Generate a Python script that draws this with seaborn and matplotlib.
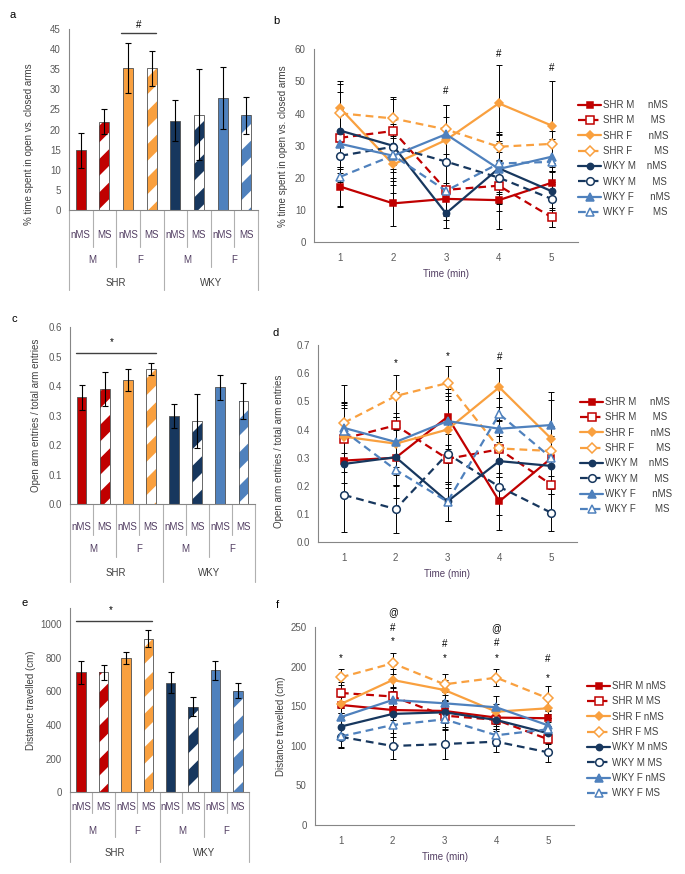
import numpy as np
import pandas as pd
import matplotlib
matplotlib.use("Agg")
import matplotlib.pyplot as plt
from matplotlib.lines import Line2D
from matplotlib.patches import Rectangle
import seaborn as sns

# ---- groups and styles ----
bar_groups = ['SHR M nMS', 'SHR M MS', 'SHR F nMS', 'SHR F MS',
              'WKY M nMS', 'WKY M MS', 'WKY F nMS', 'WKY F MS']
group_colors = ['#C00000', '#C00000', '#F9A03F', '#F9A03F',
                '#17375E', '#17375E', '#4F81BD', '#4F81BD']
is_ms = [False, True, False, True, False, True, False, True]
treat_labels = ['nMS', 'MS', 'nMS', 'MS', 'nMS', 'MS', 'nMS', 'MS']
sex_labels = ['M', 'F', 'M', 'F']
strain_labels = ['SHR', 'WKY']

markers = ['s', 's', 'D', 'D', 'o', 'o', '^', '^']
marker_sizes = [5, 5.5, 4, 5, 4.5, 5.5, 5.5, 5.5]
legend_labels_bd = ['SHR M     nMS', 'SHR M      MS', 'SHR F      nMS', 'SHR F        MS',
                    'WKY M    nMS', 'WKY M      MS', 'WKY F      nMS', 'WKY F       MS']

time_min = [1, 2, 3, 4, 5]

# ---- panel a: % time in open arms (bars) ----
a_mean = [14.8, 21.9, 35.2, 35.2, 22.2, 23.7, 27.8, 23.5]
a_err = [4.4, 3.1, 6.2, 4.3, 5.1, 11.3, 7.7, 4.6]

# ---- panel c: open arm entries ratio (bars) ----
c_mean = [0.363, 0.390, 0.420, 0.460, 0.300, 0.282, 0.396, 0.350]
c_err = [0.043, 0.057, 0.037, 0.020, 0.040, 0.091, 0.044, 0.060]

# ---- panel e: distance travelled (bars) ----
e_mean = [712, 712, 798, 912, 652, 509, 724, 604]
e_err = [68, 45, 37, 50, 62, 55, 54, 45]

# ---- panel b: % time per minute ----
b_shr_m_nms = [17.3, 12.1, 13.5, 13.1, 18.5]
b_shr_m_ms = [32.5, 34.6, 16.3, 17.6, 7.8]
b_shr_f_nms = [41.6, 24.2, 31.8, 43.2, 36.3]
b_shr_f_ms = [40.1, 38.5, 35.1, 29.7, 30.6]
b_wky_m_nms = [34.7, 30.0, 9.0, 23.0, 15.9]
b_wky_m_ms = [26.9, 29.7, 25.1, 20.1, 13.5]
b_wky_f_nms = [30.6, 26.9, 33.6, 22.8, 26.6]
b_wky_f_ms = [20.4, 27.0, 16.0, 24.5, 25.0]
b_err = [[6.0, 7.0, 5.0, 9.0, 5.0], [9.0, 10.7, 8.0, 8.0, 3.0],
         [8.7, 9.0, 7.0, 11.8, 14.0], [9.0, 6.0, 7.7, 4.5, 6.0],
         [12.0, 8.0, 4.5, 8.0, 6.0], [8.0, 7.0, 8.0, 8.0, 8.7],
         [9.0, 9.0, 9.0, 11.0, 8.0], [9.5, 7.0, 9.0, 9.0, 7.0]]
b_sig_x = [3, 4, 5]
b_sig_y = [47.0, 58.4, 54.2]
b_sig_t = ['#', '#', '#']

# ---- panel d: entries ratio per minute ----
d_shr_m_nms = [0.290, 0.300, 0.445, 0.145, 0.298]
d_shr_m_ms = [0.368, 0.415, 0.296, 0.330, 0.205]
d_shr_f_nms = [0.375, 0.350, 0.400, 0.550, 0.368]
d_shr_f_ms = [0.424, 0.519, 0.565, 0.333, 0.324]
d_wky_m_nms = [0.278, 0.302, 0.145, 0.288, 0.271]
d_wky_m_ms = [0.168, 0.118, 0.314, 0.197, 0.105]
d_wky_f_nms = [0.406, 0.356, 0.430, 0.403, 0.416]
d_wky_f_ms = [0.395, 0.257, 0.144, 0.455, 0.300]
d_err = [[0.08, 0.10, 0.10, 0.10, 0.08], [0.12, 0.12, 0.09, 0.10, 0.09],
         [0.10, 0.11, 0.12, 0.07, 0.165], [0.135, 0.073, 0.06, 0.10, 0.09],
         [0.10, 0.10, 0.07, 0.09, 0.10], [0.13, 0.085, 0.12, 0.10, 0.065],
         [0.09, 0.09, 0.10, 0.11, 0.09], [0.10, 0.10, 0.07, 0.10, 0.11]]
d_sig_x = [2, 3, 4]
d_sig_y = [0.636, 0.661, 0.658]
d_sig_t = ['*', '*', '#']

# ---- panel f: distance per minute ----
f_shr_m_nms = [151.8, 145.4, 144.2, 135.8, 135.0]
f_shr_m_ms = [167.0, 162.5, 138.3, 133.0, 108.4]
f_shr_f_nms = [153.0, 183.4, 170.7, 143.3, 147.6]
f_shr_f_ms = [186.8, 204.5, 177.9, 186.3, 160.2]
f_wky_m_nms = [124.5, 140.5, 142.5, 132.8, 116.0]
f_wky_m_ms = [111.5, 99.9, 102.4, 105.4, 91.9]
f_wky_f_nms = [136.5, 158.1, 153.9, 148.8, 126.0]
f_wky_f_ms = [112.0, 126.5, 133.6, 113.5, 121.0]
f_err = [[10, 12, 12, 10, 10], [14, 12, 14, 12, 12],
         [12, 14, 13, 10, 12], [10, 13.5, 13, 11, 15.6],
         [12, 14, 14, 12, 14], [13.5, 17, 19.4, 13.4, 11.9],
         [12, 15, 14, 14, 14], [13, 15, 14, 14, 14]]
f_sig_x = [1, 2, 2, 2, 3, 3, 4, 4, 4, 5, 5]
f_sig_y = [211, 232, 249, 269, 211, 229, 211, 230, 249, 186, 209.5]
f_sig_t = ['*', '*', '#', '@', '*', '#', '*', '#', '@', '*', '#']

sns.set_style("white")
plt.rcParams['font.family'] = ['Liberation Sans', 'DejaVu Sans']
HATCH_LW = 8.5
plt.rcParams['hatch.linewidth'] = HATCH_LW

FIG_W, FIG_H = 685, 874
AX_GREY = '#868686'
TICK_COL = '#595959'
TXT_COL = '#404040'
CAT_COL = '#533F63'
FS = 7

fig = plt.figure(figsize=(FIG_W / 100, FIG_H / 100), dpi=100)


def add_ax(left, top, right, bottom):
    return fig.add_axes([left / FIG_W, 1 - bottom / FIG_H,
                         (right - left) / FIG_W, (bottom - top) / FIG_H])


def style_axes(ax, ylim, yticks, fmt, ylabel, label_x_px, label_y_frac):
    ax.set_ylim(*ylim)
    ax.set_yticks(yticks)
    ax.set_yticklabels([fmt.format(v) for v in yticks])
    for s in ['top', 'right']:
        ax.spines[s].set_visible(False)
    for s in ['left', 'bottom']:
        ax.spines[s].set_color(AX_GREY)
        ax.spines[s].set_linewidth(0.8)
    ax.tick_params(axis='y', length=3, width=0.7, color=AX_GREY, labelsize=FS,
                   labelcolor=TICK_COL, pad=3)
    ax.set_ylabel(ylabel, fontsize=FS, color=TXT_COL)
    pos = ax.get_position()
    left_px = pos.x0 * FIG_W
    w_px = pos.width * FIG_W
    ax.yaxis.set_label_coords((label_x_px + 4.5 - left_px) / w_px, label_y_frac)


def category_table(ax, y1, y2, y3, d_pair, d_sex, d_strain):
    h_px = ax.get_position().height * FIG_H
    tr = ax.get_xaxis_transform()

    def fy(px):
        return -px / h_px

    for i, t in enumerate(treat_labels):
        ax.text(i, fy(y1), t, transform=tr, ha='center', va='center',
                fontsize=FS, color=CAT_COL)
    for j, s in enumerate(sex_labels):
        ax.text(2 * j + 0.5, fy(y2), s, transform=tr, ha='center', va='center',
                fontsize=FS, color=CAT_COL)
    for k, s in enumerate(strain_labels):
        ax.text(4 * k + 1.5, fy(y3), s, transform=tr, ha='center', va='center',
                fontsize=FS, color=TXT_COL)
    for b in np.arange(-0.5, 8, 1):
        if b in (-0.5, 3.5, 7.5):
            d = d_strain
        elif b in (1.5, 5.5):
            d = d_sex
        else:
            d = d_pair
        ax.plot([b, b], [0, fy(d)], transform=tr, color='#B0B0B0', lw=0.8,
                clip_on=False)


def bar_panel(ax, means, errs):
    df = pd.DataFrame({'group': bar_groups, 'value': means})
    sns.barplot(data=df, x='group', y='value', hue='group', order=bar_groups,
                palette=dict(zip(bar_groups, group_colors)), width=0.42,
                saturation=1, legend=False, errorbar=None, ax=ax,
                edgecolor='#505050', linewidth=0.6)
    bars = sorted(ax.patches, key=lambda p: p.get_x())
    for p, col, ms in zip(bars, group_colors, is_ms):
        if ms:
            p.set_facecolor('white')
            p.set_edgecolor(col)
            p.set_hatch('/')
            if hasattr(p, 'set_hatch_linewidth'):
                p.set_hatch_linewidth(HATCH_LW)
            p.set_linewidth(0)
            ax.add_patch(Rectangle(p.get_xy(), p.get_width(), p.get_height(),
                                   fill=False, edgecolor='#505050', lw=0.6,
                                   zorder=p.get_zorder() + 0.1))
    ax.errorbar(np.arange(len(means)), means, yerr=errs, fmt='none',
                ecolor='black', elinewidth=0.8, capsize=2.5, capthick=0.8,
                zorder=5)
    ax.set_xlim(-0.5, 7.5)
    ax.set_xticks([])
    ax.set_xlabel('')


def line_panel(ax, series, errs, sig_x, sig_y, sig_t, ylim):
    for vals, err in zip(series, errs):
        ax.errorbar(time_min, vals, yerr=err, fmt='none', ecolor='black',
                    elinewidth=0.7, capsize=2, capthick=0.7, zorder=2)
    for i, vals in enumerate(series):
        col = group_colors[i]
        sns.lineplot(x=time_min, y=vals, ax=ax, color=col, errorbar=None,
                     linestyle='--' if is_ms[i] else '-', dashes=False,
                     marker=markers[i], markersize=marker_sizes[i],
                     markerfacecolor='white' if is_ms[i] else col,
                     markeredgecolor=col, markeredgewidth=1.1, linewidth=1.6,
                     zorder=3)
    for line in ax.get_lines():
        if line.get_linestyle() == '--':
            line.set_dashes((3.5, 2.2))
    for x, y, t in zip(sig_x, sig_y, sig_t):
        ax.text(x, y, t, ha='center', va='center', fontsize=FS, color='black',
                clip_on=False)
    ax.set_xlim(0.5, 5.5)
    ax.set_xticks(time_min)
    ax.set_xticks(np.arange(0.5, 6, 1), minor=True)
    ax.tick_params(axis='x', which='major', length=0, labelsize=FS,
                   labelcolor=TICK_COL, pad=8)
    ax.tick_params(axis='x', which='minor', length=4, width=0.7, color=AX_GREY)
    ax.set_xlabel('Time (min)', fontsize=FS, color=CAT_COL, labelpad=4)


def line_legend(x_px, top_px, labels):
    handles = []
    for i in range(8):
        col = group_colors[i]
        h = Line2D([], [], color=col, linestyle='--' if is_ms[i] else '-',
                   marker=markers[i], markersize=marker_sizes[i],
                   markerfacecolor='white' if is_ms[i] else col,
                   markeredgecolor=col, markeredgewidth=1.1, linewidth=1.6)
        if is_ms[i]:
            h.set_dashes((3.5, 2.2))
        handles.append(h)
    leg = fig.legend(handles, labels, loc='upper left',
                     bbox_to_anchor=(x_px / FIG_W, 1 - top_px / FIG_H),
                     frameon=False, fontsize=FS, handlelength=2.4,
                     handletextpad=0.2, labelspacing=0.55, borderpad=0,
                     borderaxespad=0)
    for t in leg.get_texts():
        t.set_color(TXT_COL)


def sig_bar(ax, x0, x1, y, xt, yt, t):
    ax.plot([x0, x1], [y, y], color='#404040', lw=1.0, clip_on=False)
    ax.text(xt, yt, t, ha='center', va='center', fontsize=FS, color='black',
            clip_on=False)


# ---- panel a ----
ax_a = add_ax(69, 29, 258, 210)
bar_panel(ax_a, a_mean, a_err)
style_axes(ax_a, (0, 45), list(range(0, 46, 5)), '{:d}',
           '% time spent in open vs. closed arms', 30, 0.365)
category_table(ax_a, 25, 50, 73, 37, 57, 80)
sig_bar(ax_a, 1.7, 3.2, 44.0, 2.45, 45.9, '#')

# ---- panel c ----
ax_c = add_ax(70, 327.3, 255, 504.3)
bar_panel(ax_c, c_mean, c_err)
style_axes(ax_c, (0, 0.6), [0, 0.1, 0.2, 0.3, 0.4, 0.5, 0.6], '{:.1f}',
           'Open arm entries / total arm entries', 37, 0.5)
category_table(ax_c, 23, 45, 69, 31, 53, 78)
sig_bar(ax_c, -0.23, 3.2, 0.514, 1.3, 0.55, '*')

# ---- panel e ----
ax_e = add_ax(70, 608, 249, 792.3)
bar_panel(ax_e, e_mean, e_err)
style_axes(ax_e, (0, 1095), list(range(0, 1001, 200)), '{:d}',
           'Distance travelled (cm)', 32, 0.5)
category_table(ax_e, 15, 39, 61, 21, 45, 70)
sig_bar(ax_e, -0.24, 3.17, 1018, 1.33, 1080, '*')

# ---- panel b ----
ax_b = add_ax(314, 49.3, 578, 242.3)
line_panel(ax_b, [b_shr_m_nms, b_shr_m_ms, b_shr_f_nms, b_shr_f_ms,
                  b_wky_m_nms, b_wky_m_ms, b_wky_f_nms, b_wky_f_ms],
           b_err, b_sig_x, b_sig_y, b_sig_t, (0, 60))
style_axes(ax_b, (0, 60), list(range(0, 61, 10)), '{:d}',
           '% time spent in open vs. closed arms', 283, 0.5)
line_legend(578, 100, legend_labels_bd)

# ---- panel d ----
ax_d = add_ax(318, 345, 577, 542.3)
line_panel(ax_d, [d_shr_m_nms, d_shr_m_ms, d_shr_f_nms, d_shr_f_ms,
                  d_wky_m_nms, d_wky_m_ms, d_wky_f_nms, d_wky_f_ms],
           d_err, d_sig_x, d_sig_y, d_sig_t, (0, 0.7))
style_axes(ax_d, (0, 0.7), [0, 0.1, 0.2, 0.3, 0.4, 0.5, 0.6, 0.7], '{:.1f}',
           'Open arm entries / total arm entries', 280, 0.46)
line_legend(580, 397, legend_labels_bd)

# ---- panel f ----
ax_f = add_ax(315, 627.3, 574, 825)
line_panel(ax_f, [f_shr_m_nms, f_shr_m_ms, f_shr_f_nms, f_shr_f_ms,
                  f_wky_m_nms, f_wky_m_ms, f_wky_f_nms, f_wky_f_ms],
           f_err, f_sig_x, f_sig_y, f_sig_t, (0, 250))
style_axes(ax_f, (0, 250), list(range(0, 251, 50)), '{:d}',
           'Distance travelled (cm)', 281, 0.5)
line_legend(587, 681, bar_groups)

# ---- panel letters ----
for letter, x, y in [('a', 13, 15), ('b', 276, 21), ('c', 14, 319),
                     ('d', 276, 333), ('e', 25, 603), ('f', 277, 605)]:
    fig.text(x / FIG_W, 1 - y / FIG_H, letter, ha='center', va='center',
             fontsize=8, color='black')

fig.savefig('out.png', dpi=100)
